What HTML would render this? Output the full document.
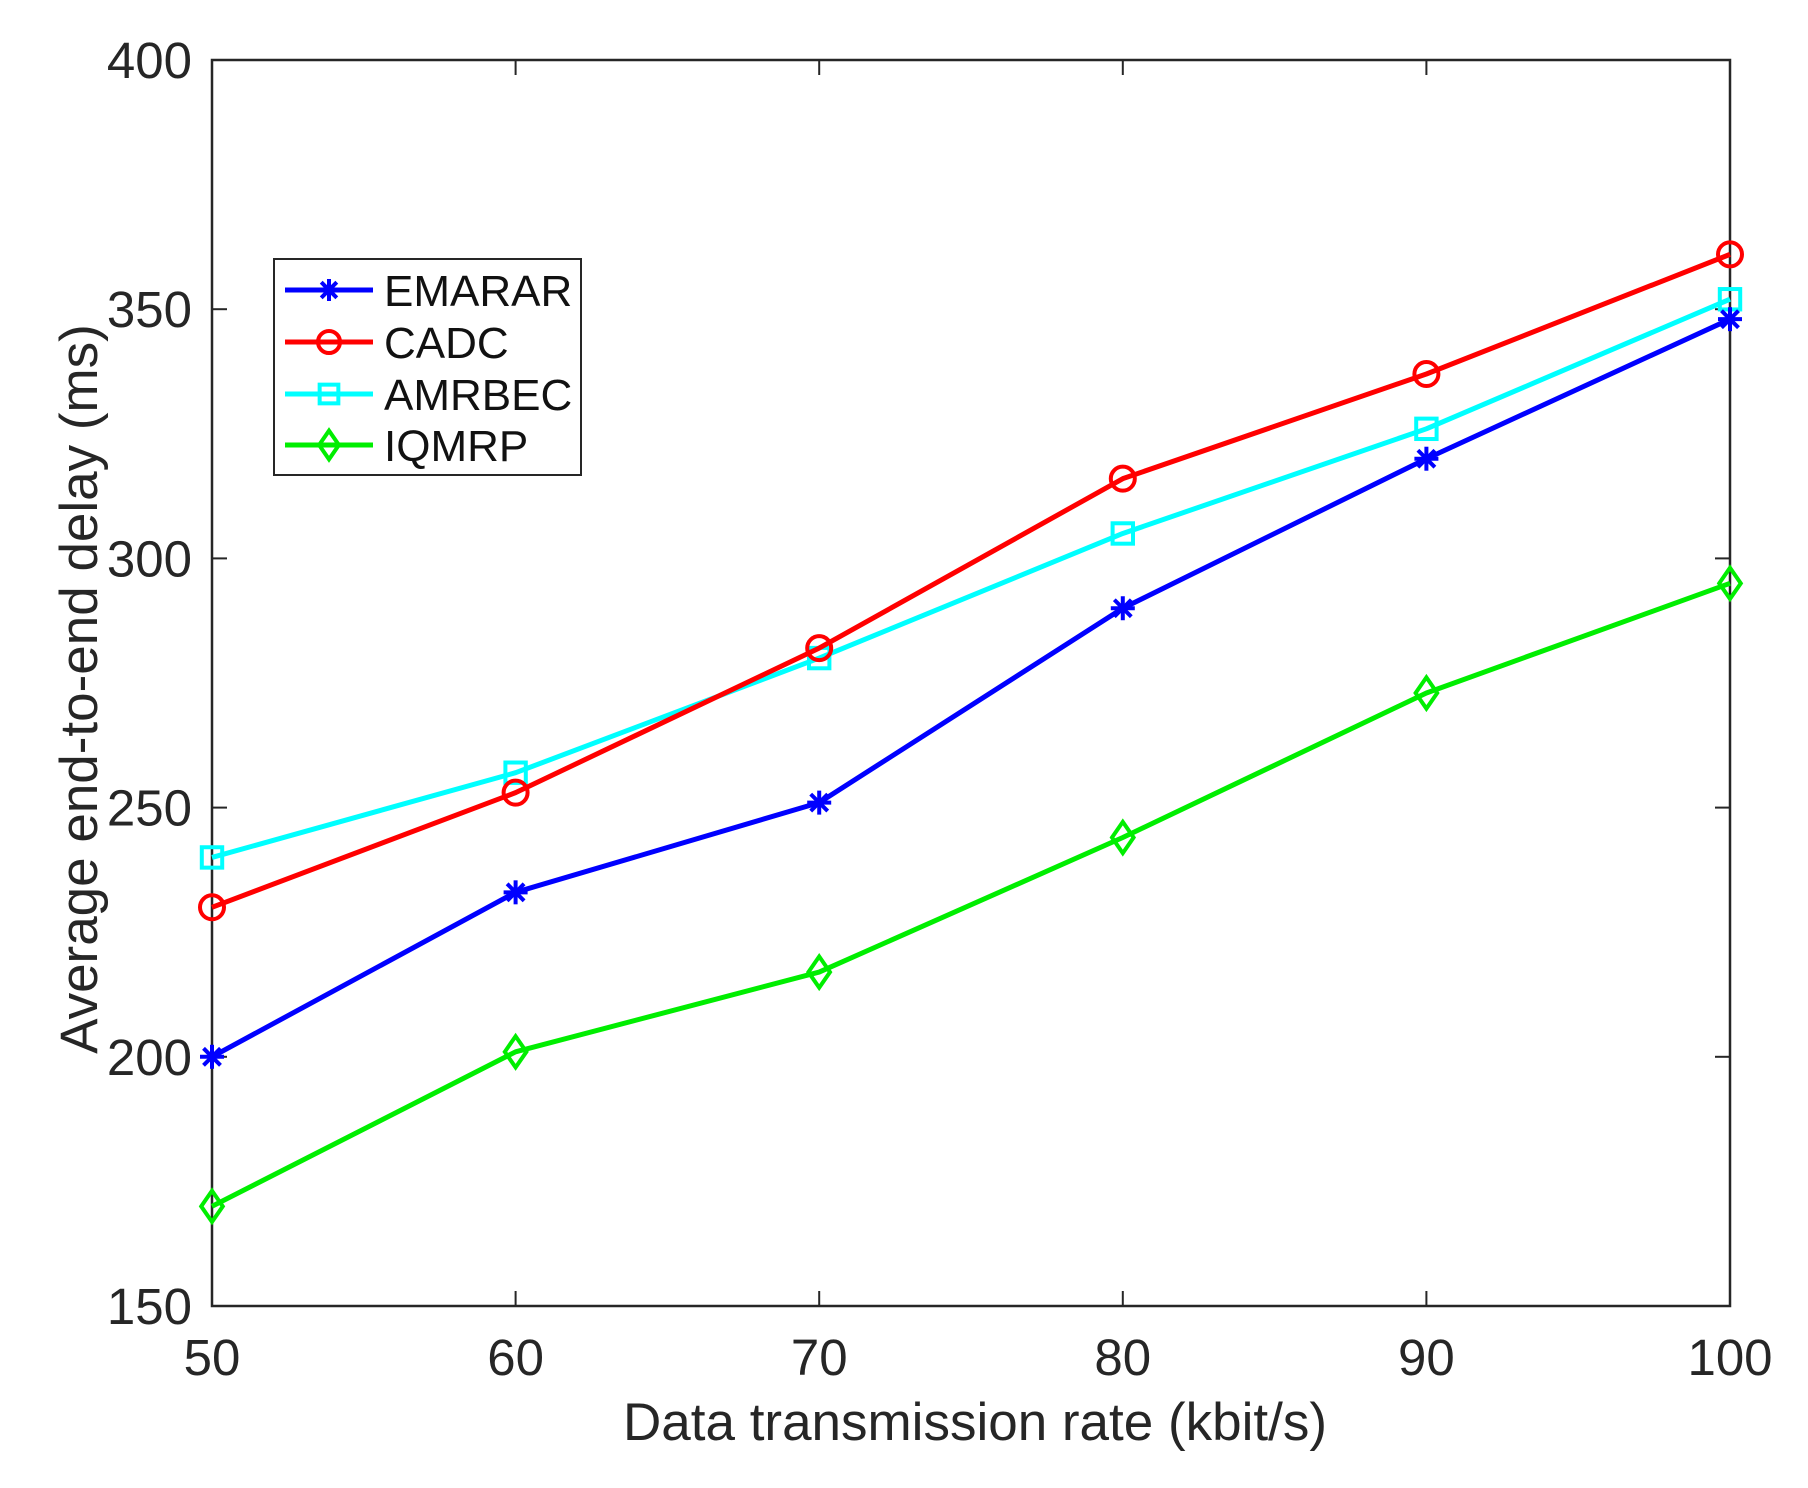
<!DOCTYPE html>
<html><head><meta charset="utf-8"><style>
body{margin:0;background:#fff}
svg{display:block;font-family:"Liberation Sans",sans-serif}
</style></head><body>
<svg id="chart" width="1808" height="1488" viewBox="0 0 1808 1488" xmlns="http://www.w3.org/2000/svg">
<rect width="1808" height="1488" fill="#fff"/>
<g id="grid"></g>
<g id="series"></g>
<g id="legend"></g>
</svg>
<script>
const categories=[50,60,70,80,90,100];
const xTicks=[50,60,70,80,90,100];
const yTicks=[150,200,250,300,350,400];
const emarar=[200,233,251,290,320,348];
const cadc=[230,253,282,316,337,361];
const amrbec=[240,257,280,305,326,352];
const iqmrp=[170,201,217,244,273,295];
const seriesNames=["EMARAR","CADC","AMRBEC","IQMRP"];

const L=212,R=1730,T=60,B=1306;
const xs=v=>L+(v-50)/(100-50)*(R-L);
const ys=v=>B-(v-150)/(400-150)*(B-T);
const NS="http://www.w3.org/2000/svg";
function mk(tag,attrs,parent){const e=document.createElementNS(NS,tag);for(const k in attrs)e.setAttribute(k,attrs[k]);parent.appendChild(e);return e;}
const grid=document.getElementById('grid');
const ser=document.getElementById('series');
const leg=document.getElementById('legend');

let box=mk('rect',{x:L,y:T,width:R-L,height:B-T,fill:'none',stroke:'#262626','stroke-width':2.5},grid);


xTicks.forEach(t=>{
  const x=xs(t);
  let a=mk('line',{x1:x,y1:B,x2:x,y2:B-15,stroke:'#262626','stroke-width':2},grid);
  
  
  let b=mk('line',{x1:x,y1:T,x2:x,y2:T+15,stroke:'#262626','stroke-width':2},grid);
  
  
  let tx=mk('text',{x:x,y:1375,'font-size':51,'text-anchor':'middle',fill:'#262626'},grid);
  tx.textContent=t;
  
  
});
yTicks.forEach(t=>{
  const y=ys(t);
  let a=mk('line',{x1:L,y1:y,x2:L+15,y2:y,stroke:'#262626','stroke-width':2},grid);
  
  
  let b=mk('line',{x1:R,y1:y,x2:R-15,y2:y,stroke:'#262626','stroke-width':2},grid);
  
  
  let tx=mk('text',{x:192,y:y+18,'font-size':51,'text-anchor':'end',fill:'#262626'},grid);
  tx.textContent=t;
  
  
});
let xl=mk('text',{x:(L+R)/2+4,y:1440,'font-size':53,'text-anchor':'middle',fill:'#262626'},grid);
xl.textContent='Data transmission rate (kbit/s)';


let yl=mk('text',{x:0,y:0,'font-size':53,'text-anchor':'middle',fill:'#262626',transform:`translate(97,${(T+B)/2+6}) rotate(-90)`},grid);
yl.textContent='Average end-to-end delay (ms)';



function marker(kind,x,y,color,parent,s){
  let g;
  if(kind==='star'){
    g=mk('g',{stroke:color,'stroke-width':4},parent);
    for(let a=0;a<4;a++){const ang=a*Math.PI/4;mk('line',{x1:x-s*Math.cos(ang),y1:y-s*Math.sin(ang),x2:x+s*Math.cos(ang),y2:y+s*Math.sin(ang)},g);}
  }else if(kind==='circle'){
    g=mk('circle',{cx:x,cy:y,r:s,fill:'none',stroke:color,'stroke-width':4},parent);
  }else if(kind==='square'){
    g=mk('rect',{x:x-s*0.85,y:y-s*0.85,width:s*1.7,height:s*1.7,fill:'none',stroke:color,'stroke-width':4},parent);
  }else{
    g=mk('polygon',{points:`${x},${y-s*1.3} ${x+s*0.9},${y} ${x},${y+s*1.3} ${x-s*0.9},${y}`,fill:'none',stroke:color,'stroke-width':4},parent);
  }
  return g;
}
const all=[
 {vals:emarar,color:'#0000ff',m:'star',name:'emarar'},
 {vals:cadc,color:'#ff0000',m:'circle',name:'cadc'},
 {vals:amrbec,color:'#00ffff',m:'square',name:'amrbec'},
 {vals:iqmrp,color:'#00ee00',m:'diamond',name:'iqmrp'}
];
[3,2,1,0].forEach(i=>{
  const s=all[i];
  const pts=s.vals.map((v,j)=>xs(categories[j])+','+ys(v)).join(' ');
  let pl=mk('polyline',{points:pts,fill:'none',stroke:s.color,'stroke-width':5,'stroke-linejoin':'round'},ser);
  
  
  s.vals.forEach((v,j)=>{
    let mm=marker(s.m,xs(categories[j]),ys(v),s.color,ser,12);
    
    
  });
});
let lb=mk('rect',{x:274,y:259,width:307,height:216,fill:'#fff',stroke:'#262626','stroke-width':2},leg);


const rowsY=[290,342,394,445];
all.forEach((s,i)=>{
  const y=rowsY[i];
  const g=mk('g',{},leg);
  
  
  mk('line',{x1:285,y1:y,x2:373,y2:y,stroke:s.color,'stroke-width':5},g);
  marker(s.m,329,y,s.color,g,11);
  const t=mk('text',{x:384,y:y+16,'font-size':44,fill:'#111'},g);
  t.textContent=seriesNames[i];
});
</script>
</body></html>
